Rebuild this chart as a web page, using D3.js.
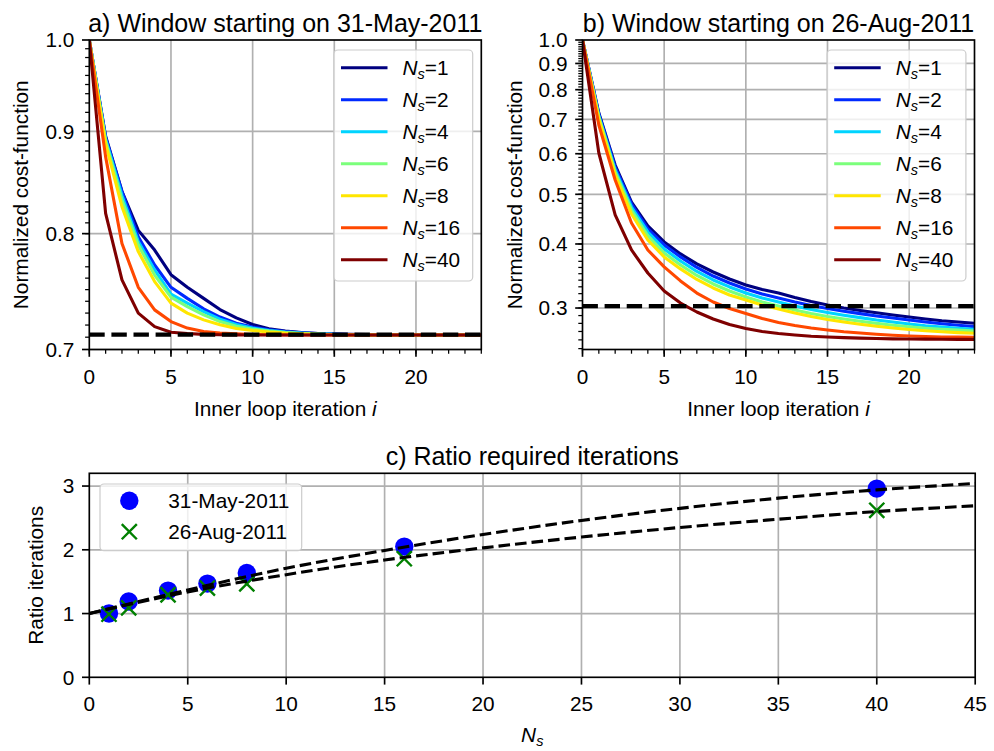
<!DOCTYPE html>
<html>
<head>
<meta charset="utf-8">
<script src="https://cdn.jsdelivr.net/npm/d3@7"></script>
<style>
  body { margin: 0; background: #fff; }
</style>
</head>
<body>
<script>
// ---- data ----
var iterations = [0, 1, 2, 3, 4, 5, 6, 7, 8, 9, 10, 11, 12, 13, 14, 15, 16, 17, 18, 19, 20, 21, 22, 23, 24];
var nsNames = ['1', '2', '4', '6', '8', '16', '40'];
var jetColors = ['#00007f', '#002aff', '#00d4ff', '#7bff7b', '#ffe600', '#ff4800', '#7f0000'];

// a) window starting on 31-May-2011
var aNs1  = [1.0, 0.895, 0.840, 0.803, 0.785, 0.763, 0.752, 0.7425, 0.733, 0.726, 0.7205, 0.717, 0.715, 0.7138, 0.713, 0.7126, 0.7123, 0.7121, 0.712, 0.712, 0.7119, 0.7119, 0.7118, 0.7118, 0.7118];
var aNs2  = [1.0, 0.894, 0.8397, 0.797, 0.7716, 0.752, 0.7425, 0.7336, 0.7267, 0.7215, 0.7183, 0.716, 0.7146, 0.7136, 0.7129, 0.7125, 0.7122, 0.712, 0.7119, 0.7119, 0.7118, 0.7118, 0.7118, 0.7118, 0.7118];
var aNs4  = [1.0, 0.892, 0.836, 0.7927, 0.7672, 0.7462, 0.7384, 0.7313, 0.7249, 0.7205, 0.7175, 0.7155, 0.7142, 0.7133, 0.7127, 0.7123, 0.712, 0.7119, 0.7118, 0.7118, 0.7118, 0.7118, 0.7118, 0.7118, 0.7118];
var aNs6  = [1.0, 0.89, 0.8316, 0.7896, 0.7627, 0.7435, 0.7355, 0.7285, 0.7229, 0.719, 0.7166, 0.715, 0.7138, 0.713, 0.7125, 0.7122, 0.712, 0.7119, 0.7118, 0.7118, 0.7118, 0.7118, 0.7118, 0.7118, 0.7118];
var aNs8  = [1.0, 0.887, 0.8253, 0.7836, 0.757, 0.7384, 0.730, 0.7243, 0.7202, 0.7172, 0.7155, 0.7142, 0.7133, 0.7127, 0.7123, 0.712, 0.7119, 0.7118, 0.7118, 0.7118, 0.7118, 0.7118, 0.7118, 0.7118, 0.7118];
var aNs16 = [1.0, 0.874, 0.791, 0.752, 0.7327, 0.7229, 0.7175, 0.7147, 0.7134, 0.7127, 0.7122, 0.712, 0.7119, 0.7118, 0.7118, 0.7118, 0.7118, 0.7118, 0.7118, 0.7118, 0.7118, 0.7118, 0.7118, 0.7118, 0.7118];
var aNs40 = [1.0, 0.8188, 0.7585, 0.730, 0.7187, 0.714, 0.713, 0.7123, 0.712, 0.7119, 0.7118, 0.7118, 0.7118, 0.7118, 0.7118, 0.7118, 0.7118, 0.7118, 0.7118, 0.7118, 0.7118, 0.7118, 0.7118, 0.7118, 0.7118];
var aThreshold = 0.7121;

// b) window starting on 26-Aug-2011
var bNs1  = [1.0, 0.7204, 0.5703, 0.4830, 0.4337, 0.4037, 0.3825, 0.3657, 0.3527, 0.3418, 0.3327, 0.3261, 0.3209, 0.3145, 0.3089, 0.3041, 0.3000, 0.2967, 0.2937, 0.2908, 0.2882, 0.2856, 0.2834, 0.2818, 0.2801];
var bNs2  = [1.0, 0.7172, 0.5652, 0.4787, 0.4279, 0.3983, 0.3774, 0.3600, 0.3464, 0.3357, 0.3268, 0.3195, 0.3138, 0.3082, 0.3034, 0.2993, 0.2958, 0.2925, 0.2895, 0.2869, 0.2843, 0.2818, 0.2796, 0.2777, 0.2759];
var bNs4  = [1.0, 0.7108, 0.5577, 0.4723, 0.4222, 0.3912, 0.3706, 0.3535, 0.3403, 0.3298, 0.3209, 0.3138, 0.3082, 0.3027, 0.2980, 0.2941, 0.2905, 0.2873, 0.2843, 0.2818, 0.2792, 0.2770, 0.2753, 0.2739, 0.2727];
var bNs6  = [1.0, 0.7076, 0.5527, 0.4660, 0.4147, 0.3842, 0.3640, 0.3472, 0.3342, 0.3238, 0.3152, 0.3082, 0.3027, 0.2974, 0.2928, 0.2888, 0.2856, 0.2826, 0.2800, 0.2777, 0.2757, 0.2740, 0.2727, 0.2716, 0.2706];
var bNs8  = [1.0, 0.7013, 0.5453, 0.4577, 0.4073, 0.3774, 0.3576, 0.3411, 0.3283, 0.3181, 0.3110, 0.3041, 0.2987, 0.2934, 0.2888, 0.2850, 0.2818, 0.2789, 0.2764, 0.2743, 0.2724, 0.2708, 0.2696, 0.2686, 0.2678];
var bNs16 = [1.0, 0.6826, 0.5332, 0.4395, 0.3894, 0.3608, 0.3388, 0.3209, 0.3082, 0.2993, 0.2928, 0.2863, 0.2811, 0.2774, 0.2743, 0.2718, 0.2697, 0.2682, 0.2667, 0.2655, 0.2646, 0.2639, 0.2634, 0.2632, 0.2631];
var bNs40 = [1.0, 0.6019, 0.4557, 0.3894, 0.3511, 0.3238, 0.3068, 0.2947, 0.2856, 0.2786, 0.2736, 0.2700, 0.2676, 0.2658, 0.2643, 0.2634, 0.2627, 0.2621, 0.2616, 0.2612, 0.2610, 0.2609, 0.2607, 0.2606, 0.2606];
var bThreshold = 0.3027;

// c) ratio of required iterations
var nsValues = [1, 2, 4, 6, 8, 16, 40];
var mayRatio = [1.0, 1.19, 1.36, 1.47, 1.635, 2.05, 2.96];
var augRatio = [0.99, 1.09, 1.295, 1.40, 1.465, 1.86, 2.62];
var fitNs    = [0, 5, 10, 15, 20, 25, 30, 35, 40, 45];
var mayFit   = [1.0, 1.37, 1.71, 1.99, 2.24, 2.46, 2.65, 2.81, 2.94, 3.04];
var augFit   = [1.0, 1.34, 1.61, 1.84, 2.03, 2.20, 2.35, 2.48, 2.60, 2.69];

var aCurves = [aNs1, aNs2, aNs4, aNs6, aNs8, aNs16, aNs40];
var bCurves = [bNs1, bNs2, bNs4, bNs6, bNs8, bNs16, bNs40];

// ---- drawing ----
var FS = 20.8, SPINE = 1.67, GRID = '#b0b0b0';
var font = '"Liberation Sans", Arial, Helvetica, sans-serif';

var svg = d3.select('body').append('svg')
  .attr('width', 994).attr('height', 751)
  .style('font-family', font);

function frame(g, x, y) {
  g.append('rect')
    .attr('x', x.range()[0]).attr('y', y.range()[1])
    .attr('width', x.range()[1] - x.range()[0])
    .attr('height', y.range()[0] - y.range()[1])
    .attr('fill', 'none').attr('stroke', '#000').attr('stroke-width', SPINE);
}

function grid(g, x, y, xs, ys) {
  g.selectAll('.gx').data(xs).enter().append('line')
    .attr('x1', x).attr('x2', x)
    .attr('y1', y.range()[0]).attr('y2', y.range()[1])
    .attr('stroke', GRID).attr('stroke-width', SPINE);
  g.selectAll('.gy').data(ys).enter().append('line')
    .attr('y1', y).attr('y2', y)
    .attr('x1', x.range()[0]).attr('x2', x.range()[1])
    .attr('stroke', GRID).attr('stroke-width', SPINE);
}

function xTicks(g, x, y, major, minor, fmt) {
  var yb = y.range()[0];
  g.selectAll('.xmi').data(minor).enter().append('line')
    .attr('x1', x).attr('x2', x).attr('y1', yb).attr('y2', yb + 4.2)
    .attr('stroke', '#000').attr('stroke-width', 1.25);
  g.selectAll('.xma').data(major).enter().append('line')
    .attr('x1', x).attr('x2', x).attr('y1', yb).attr('y2', yb + 7.3)
    .attr('stroke', '#000').attr('stroke-width', SPINE);
  g.selectAll('.xlb').data(major).enter().append('text')
    .attr('x', x).attr('y', yb + 34)
    .attr('text-anchor', 'middle').attr('font-size', FS)
    .text(fmt);
}

function yTicks(g, x, y, major, minor, fmt) {
  var xl = x.range()[0];
  g.selectAll('.ymi').data(minor).enter().append('line')
    .attr('y1', y).attr('y2', y).attr('x1', xl).attr('x2', xl - 4.2)
    .attr('stroke', '#000').attr('stroke-width', 1.25);
  g.selectAll('.yma').data(major).enter().append('line')
    .attr('y1', y).attr('y2', y).attr('x1', xl).attr('x2', xl - 7.3)
    .attr('stroke', '#000').attr('stroke-width', SPINE);
  g.selectAll('.ylb').data(major).enter().append('text')
    .attr('x', xl - 15).attr('y', function (d) { return y(d) + 7.4; })
    .attr('text-anchor', 'end').attr('font-size', FS)
    .text(fmt);
}

function nsText(t, pre, post) {
  t.append('tspan').text(pre || '');
  t.append('tspan').attr('font-style', 'italic').text('N');
  t.append('tspan').attr('font-style', 'italic').attr('font-size', FS * 0.7).attr('dy', 4).text('s');
  t.append('tspan').attr('dy', -4).text(post || '');
}

function lossPanel(id, x, y, curves, threshold, yMajor, yMinor, title) {
  var g = svg.append('g');
  var xl = x.range()[0], xr = x.range()[1], yb = y.range()[0], yt = y.range()[1];

  svg.append('clipPath').attr('id', id)
    .append('rect').attr('x', xl).attr('y', yt).attr('width', xr - xl).attr('height', yb - yt);

  grid(g, x, y, [5, 10, 15, 20], yMajor.filter(function (d) { return d < 1; }));

  var line = d3.line()
    .x(function (d, i) { return x(iterations[i]); })
    .y(function (d) { return y(d); });

  var plot = g.append('g').attr('clip-path', 'url(#' + id + ')');
  plot.selectAll('.curve').data(curves).enter().append('path')
    .attr('d', line)
    .attr('fill', 'none')
    .attr('stroke', function (d, i) { return jetColors[i]; })
    .attr('stroke-width', 3.1)
    .attr('stroke-linejoin', 'round');

  plot.append('line')
    .attr('x1', x(0)).attr('x2', x(24))
    .attr('y1', y(threshold)).attr('y2', y(threshold))
    .attr('stroke', '#000').attr('stroke-width', 4.2)
    .attr('stroke-dasharray', '15.4,6.7');

  frame(g, x, y);
  xTicks(g, x, y, [0, 5, 10, 15, 20], d3.range(0, 25), d3.format('d'));
  yTicks(g, x, y, yMajor, yMinor, d3.format('.1f'));

  g.append('text')
    .attr('x', (xl + xr) / 2).attr('y', yb + 66)
    .attr('text-anchor', 'middle').attr('font-size', FS)
    .call(function (t) {
      t.append('tspan').text('Inner loop iteration ');
      t.append('tspan').attr('font-style', 'italic').text('i');
    });

  g.append('text')
    .attr('transform', 'translate(' + (xl - 61) + ',' + ((yb + yt) / 2) + ') rotate(-90)')
    .attr('text-anchor', 'middle').attr('font-size', FS)
    .text('Normalized cost-function');

  g.append('text')
    .attr('x', (xl + xr) / 2).attr('y', yt - 8.5)
    .attr('text-anchor', 'middle').attr('font-size', 25)
    .text(title);

  // legend
  var lx = xr - 8.6 - 138.7, ly = 50;
  var leg = g.append('g');
  leg.append('rect')
    .attr('x', lx).attr('y', ly).attr('width', 138.7).attr('height', 231)
    .attr('rx', 4).attr('fill', '#fff').attr('fill-opacity', 0.8)
    .attr('stroke', '#cccccc').attr('stroke-width', 1.2);
  var rows = leg.selectAll('.row').data(nsNames).enter().append('g')
    .attr('transform', function (d, i) { return 'translate(' + lx + ',' + (ly + 17.7 + 32 * i) + ')'; });
  rows.append('line')
    .attr('x1', 7).attr('x2', 53.5).attr('y1', 0).attr('y2', 0)
    .attr('stroke', function (d, i) { return jetColors[i]; })
    .attr('stroke-width', 3.1);
  rows.append('text')
    .attr('x', 68.5).attr('y', 7.4).attr('font-size', FS)
    .each(function (d) { nsText(d3.select(this), '', '=' + d); });
}

// panel a
var xA = d3.scaleLinear().domain([0, 24]).range([89.3, 481.3]);
var yA = d3.scaleLog().domain([0.7, 1.0]).range([349.5, 40]);
var aMinor = d3.range(71, 100).map(function (v) { return v / 100; });
lossPanel('clipA', xA, yA, aCurves, aThreshold, [0.7, 0.8, 0.9, 1.0], aMinor,
  'a) Window starting on 31-May-2011');

// panel b
var xB = d3.scaleLinear().domain([0, 24]).range([582.5, 974.5]);
var yB = d3.scaleLog().domain([0.249, 1.0]).range([349.5, 40]);
var bMinor = d3.range(25, 100).map(function (v) { return v / 100; });
lossPanel('clipB', xB, yB, bCurves, bThreshold, [0.3, 0.4, 0.5, 0.6, 0.7, 0.8, 0.9, 1.0], bMinor,
  'b) Window starting on 26-Aug-2011');

// panel c
var xC = d3.scaleLinear().domain([0, 45]).range([89.3, 975.2]);
var yC = d3.scaleLinear().domain([0, 3.2]).range([677.3, 473.3]);
var gc = svg.append('g');
svg.append('clipPath').attr('id', 'clipC')
  .append('rect').attr('x', 89.3).attr('y', 473.3).attr('width', 975.2 - 89.3).attr('height', 677.3 - 473.3);

grid(gc, xC, yC, [5, 10, 15, 20, 25, 30, 35, 40], [1, 2, 3]);

var plotC = gc.append('g').attr('clip-path', 'url(#clipC)');
plotC.selectAll('.may').data(nsValues).enter().append('circle')
  .attr('cx', xC)
  .attr('cy', function (d, i) { return yC(mayRatio[i]); })
  .attr('r', 9.2).attr('fill', '#0000ff');

var xMark = d3.symbol().type(d3.symbolX).size(150);
plotC.selectAll('.aug').data(nsValues).enter().append('path')
  .attr('d', xMark)
  .attr('transform', function (d, i) { return 'translate(' + xC(d) + ',' + yC(augRatio[i]) + ')'; })
  .attr('fill', 'none').attr('stroke', '#008000').attr('stroke-width', 2.4);

var fitLine = function (vals) {
  return d3.line()
    .x(function (d, i) { return xC(fitNs[i]); })
    .y(function (d) { return yC(d); })
    .curve(d3.curveMonotoneX)(vals);
};
plotC.selectAll('.fit').data([mayFit, augFit]).enter().append('path')
  .attr('d', fitLine)
  .attr('fill', 'none').attr('stroke', '#000').attr('stroke-width', 3.1)
  .attr('stroke-dasharray', '11.6,5');

frame(gc, xC, yC);
xTicks(gc, xC, yC, [0, 5, 10, 15, 20, 25, 30, 35, 40, 45], [], d3.format('d'));
yTicks(gc, xC, yC, [0, 1, 2, 3], [], d3.format('d'));

gc.append('text')
  .attr('x', (89.3 + 975.2) / 2).attr('y', 742)
  .attr('text-anchor', 'middle').attr('font-size', FS)
  .call(function (t) { nsText(t, '', ''); });

gc.append('text')
  .attr('transform', 'translate(43,' + ((677.3 + 473.3) / 2) + ') rotate(-90)')
  .attr('text-anchor', 'middle').attr('font-size', FS)
  .text('Ratio iterations');

gc.append('text')
  .attr('x', (89.3 + 975.2) / 2).attr('y', 473.3 - 8.5)
  .attr('text-anchor', 'middle').attr('font-size', 25)
  .text('c) Ratio required iterations');

// legend c
var legC = gc.append('g');
legC.append('rect')
  .attr('x', 100).attr('y', 484).attr('width', 201.7).attr('height', 66.7)
  .attr('rx', 4).attr('fill', '#fff').attr('fill-opacity', 0.8)
  .attr('stroke', '#cccccc').attr('stroke-width', 1.2);
legC.append('circle').attr('cx', 129.3).attr('cy', 500.7).attr('r', 9.2).attr('fill', '#0000ff');
legC.append('path').attr('d', xMark)
  .attr('transform', 'translate(129.3,531.7)')
  .attr('fill', 'none').attr('stroke', '#008000').attr('stroke-width', 2.4);
legC.append('text').attr('x', 168.3).attr('y', 508.1).attr('font-size', FS).text('31-May-2011');
legC.append('text').attr('x', 168.3).attr('y', 539.1).attr('font-size', FS).text('26-Aug-2011');
</script>
</body>
</html>
